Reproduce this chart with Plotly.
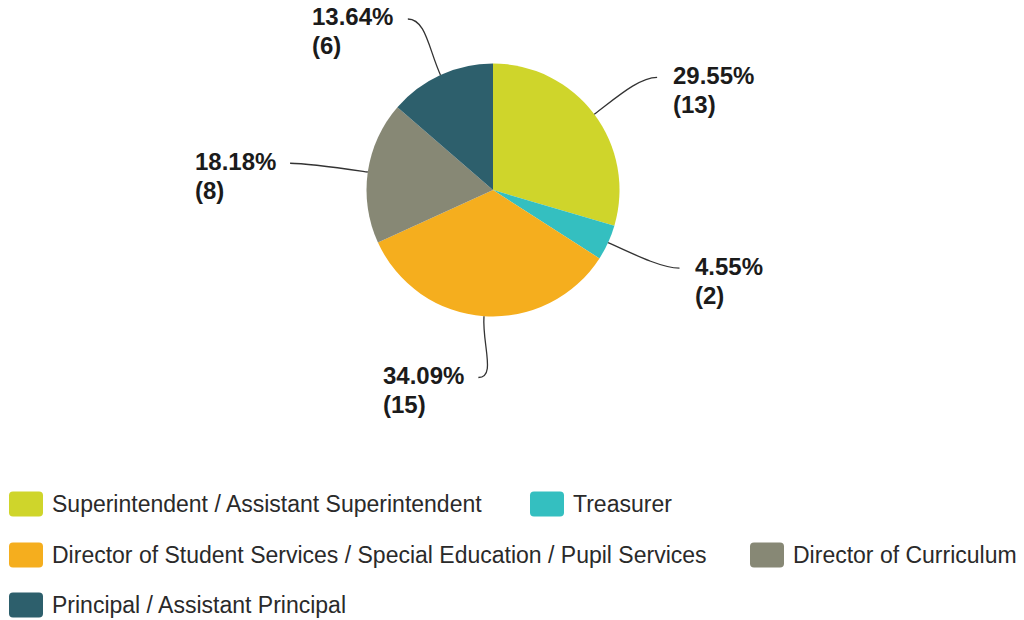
import math
import plotly.graph_objects as go

# Respondent roles and counts
roles = [
    "Superintendent / Assistant Superintendent",
    "Treasurer",
    "Director of Student Services / Special Education / Pupil Services",
    "Director of Curriculum",
    "Principal / Assistant Principal",
]
counts = [13, 2, 15, 8, 6]
colors = ["#CFD52B", "#34BFC0", "#F5AE1E", "#878875", "#2D5F6C"]

# Legend layout: row index and left edge (px) of each entry
legend_row = [0, 0, 1, 1, 2]
legend_left = [9, 530, 9, 750, 9]

W, H = 1024, 620
CX, CY, R = 493, 190, 126.5      # pie centre and radius (px)
RX_LABEL, RY_LABEL = 205, 188     # ellipse on which connectors end
LABEL_GAP = 15                    # connector end to label text (px)
LABEL_RAISE = 2                   # text sits slightly above the connector end
LINE_GAP = 29                     # distance between the two label lines (px)
LABEL_SIZE = 24

# Arial/Liberation bold advance widths (per 1000 em) for label glyphs
BOLD_WIDTH = {c: 556 for c in "0123456789"}
BOLD_WIDTH.update({".": 278, "%": 889, "(": 333, ")": 333})


def text_width(s, size):
    return sum(BOLD_WIDTH[c] for c in s) * size / 1000


def px(x):
    return x / W


def py(y):
    return 1 - y / H


fig = go.Figure(
    go.Pie(
        labels=roles,
        values=counts,
        sort=False,
        direction="clockwise",
        rotation=0,
        marker=dict(colors=colors, line=dict(width=0)),
        textinfo="none",
        hoverinfo="label+value+percent",
        domain=dict(
            x=[px(CX - R), px(CX + R)],
            y=[py(CY + R), py(CY - R)],
        ),
    )
)

shapes = []
annotations = []
total = sum(counts)
start = 0.0
label_font = dict(family="Liberation Sans, Arial, sans-serif", size=LABEL_SIZE, color="#1b1b1b")
for v in counts:
    frac = v / total
    mid = math.radians((start + frac / 2) * 360)
    start += frac
    dx, dy = math.sin(mid), -math.cos(mid)
    ex, ey = CX + R * dx, CY + R * dy
    c1x, c1y = CX + (R + 28) * dx, CY + (R + 28) * dy
    ax, ay = CX + RX_LABEL * dx, CY + RY_LABEL * dy
    right = dx > 0
    c2x = ax - 18 if right else ax + 18
    path = (
        f"M {px(ex)},{py(ey)} C {px(c1x)},{py(c1y)} "
        f"{px(c2x)},{py(ay)} {px(ax)},{py(ay)}"
    )
    shapes.append(dict(type="path", xref="paper", yref="paper", path=path,
                       line=dict(color="#333333", width=1.3)))

    pct = f"{frac * 100:.2f}%"
    cnt = f"({v})"
    block_w = max(text_width(pct, LABEL_SIZE), text_width(cnt, LABEL_SIZE))
    # both lines share one left edge, on whichever side of the pie
    left = ax + LABEL_GAP if right else ax - LABEL_GAP - block_w
    for i, line in enumerate([pct, cnt]):
        annotations.append(dict(
            x=px(left), y=py(ay - LABEL_RAISE + i * LINE_GAP),
            xref="paper", yref="paper",
            text=f"<b>{line}</b>", showarrow=False,
            xanchor="left", yanchor="middle", font=label_font, borderpad=0,
        ))

# Custom legend with rounded swatches
ROW_Y = [504, 555, 605]
SW, SH, RAD = 34, 25, 4
for name, col, row, left in zip(roles, colors, legend_row, legend_left):
    cy = ROW_Y[row]
    x0, x1 = left, left + SW
    y0, y1 = cy - SH / 2, cy + SH / 2
    p = (
        f"M {px(x0 + RAD)},{py(y0)} L {px(x1 - RAD)},{py(y0)} "
        f"Q {px(x1)},{py(y0)} {px(x1)},{py(y0 + RAD)} "
        f"L {px(x1)},{py(y1 - RAD)} Q {px(x1)},{py(y1)} {px(x1 - RAD)},{py(y1)} "
        f"L {px(x0 + RAD)},{py(y1)} Q {px(x0)},{py(y1)} {px(x0)},{py(y1 - RAD)} "
        f"L {px(x0)},{py(y0 + RAD)} Q {px(x0)},{py(y0)} {px(x0 + RAD)},{py(y0)} Z"
    )
    shapes.append(dict(type="path", xref="paper", yref="paper", path=p,
                       fillcolor=col, line=dict(width=0)))
    annotations.append(dict(
        x=px(left + SW + 7), y=py(cy), xref="paper", yref="paper",
        text=name, showarrow=False, xanchor="left", yanchor="middle",
        font=dict(family="Liberation Sans, Arial, sans-serif", size=23, color="#2a2a2a"),
    ))

fig.update_layout(
    width=W,
    height=H,
    margin=dict(l=0, r=0, t=0, b=0, pad=0),
    paper_bgcolor="white",
    plot_bgcolor="white",
    showlegend=False,
    shapes=shapes,
    annotations=annotations,
)

fig.write_html("out.html", config={"displayModeBar": False})
